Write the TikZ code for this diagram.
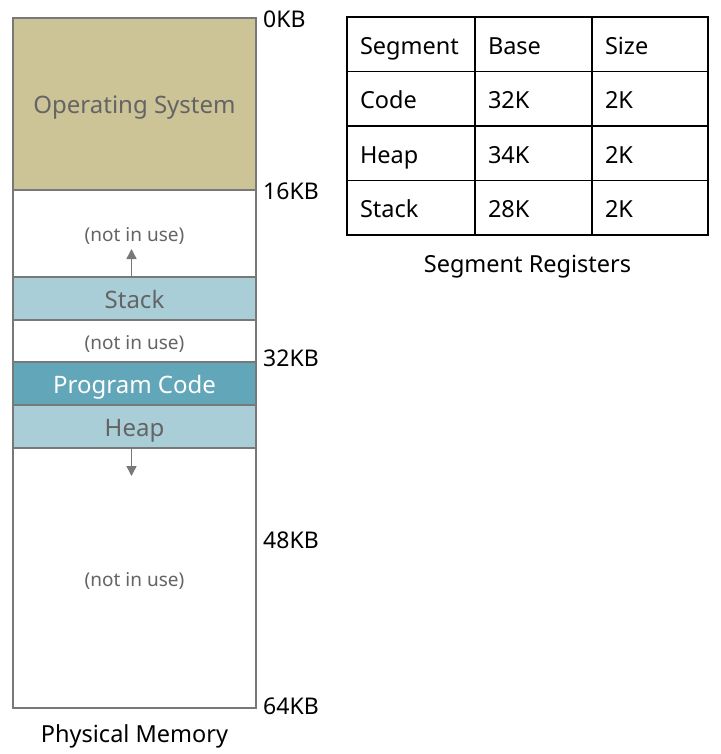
\documentclass[tikz,border=0pt]{standalone}
\usepackage{fontspec}
\setmainfont{Noto Sans}
\usetikzlibrary{arrows.meta, positioning, calc}
\definecolor{osfill}{RGB}{204,196,151}
\definecolor{segfill}{RGB}{170,206,216}
\definecolor{codefill}{RGB}{98,166,186}
\definecolor{memline}{RGB}{120,120,120}
\definecolor{memtext}{RGB}{100,100,100}

\begin{document}
\begin{tikzpicture}[x=1pt, y=-1pt,
    seg/.style={draw=memline, line width=1.2pt, minimum width=243pt, inner sep=0pt,
                outer sep=0pt, text=memtext, text height=20pt, text depth=1pt,
                font=\fontsize{24}{28}\selectfont},
    free/.style={seg, fill=white, text height=16pt, text depth=0pt,
                 font=\fontsize{19}{22}\selectfont},
    addr/.style={anchor=west, inner sep=0pt, font=\fontsize{23}{27}\selectfont},
    cell/.style={draw=black, line width=1.3pt, minimum height=54.5pt, inner xsep=13pt,
                 outer sep=0pt, align=left, text height=21pt, text depth=1pt,
                 font=\fontsize{23.5}{27}\selectfont},
    growarrow/.style={draw=memline, line width=1.5pt, -{Triangle[length=10pt, width=10pt]}}
]
    \useasboundingbox (0,0) rectangle (720,754);

    % physical memory
    \node[seg, fill=osfill, minimum height=172pt, anchor=north] (os) at (134.5,18) {Operating System};
    \node[free, minimum height=87pt, below=0pt of os] (free1) {(not in use)};
    \node[seg, fill=segfill, minimum height=43pt, below=0pt of free1] (stack) {Stack};
    \node[free, minimum height=42pt, below=0pt of stack] (free2) {(not in use)};
    \node[seg, fill=codefill, text=white, minimum height=43pt, below=0pt of free2] (code) {Program Code};
    \node[seg, fill=segfill, minimum height=43pt, below=0pt of code] (heap) {Heap};
    \node[free, minimum height=260pt, below=0pt of heap] (free3) {(not in use)};

    \coordinate (stackfoot) at ([xshift=-3pt]stack.north);
    \coordinate (stacktip) at ([yshift=28pt]stackfoot);
    \coordinate (heapfoot) at ([xshift=-3pt]heap.south);
    \coordinate (heaptip) at ([yshift=-28pt]heapfoot);
    \draw[growarrow] (stackfoot) -- (stacktip);
    \draw[growarrow] (heapfoot) -- (heaptip);

    \node[addr] (kb0) at ([xshift=7pt, yshift=-1pt]os.north east) {0KB};
    \node[addr] (kb16) at ([xshift=7pt, yshift=-1pt]os.south east) {16KB};
    \node[addr] (kb32) at ([xshift=7pt, yshift=4pt]code.north east) {32KB};
    \node[addr] (kb48) at ([xshift=7pt, yshift=-92pt]free3.north east) {48KB};
    \node[addr] (kb64) at ([xshift=7pt, yshift=2pt]free3.south east) {64KB};
    \node[below=13pt of free3, font=\fontsize{23.5}{27}\selectfont] (physmem) {Physical Memory};

    % segment registers
    \node[cell, text width=102pt, anchor=north west] (seghead) at (347,17) {Segment};
    \node[cell, text width=91pt, right=0pt of seghead] (basehead) {Base};
    \node[cell, text width=90pt, right=0pt of basehead] (sizehead) {Size};
    \foreach \seg/\base/\prev in {Code/32K/head, Heap/34K/Code, Stack/28K/Heap} {
        \node[cell, text width=102pt, below=0pt of seg\prev] (seg\seg) {\seg};
        \node[cell, text width=91pt, right=0pt of seg\seg] (base\seg) {\base};
        \node[cell, text width=90pt, right=0pt of base\seg] (size\seg) {2K};
    }
    \node[anchor=north, font=\fontsize{23.5}{27}\selectfont] (regs)
        at ($(segStack.south west)!0.5!(sizeStack.south east)+(0,17)$) {Segment Registers};
\end{tikzpicture}
\end{document}
